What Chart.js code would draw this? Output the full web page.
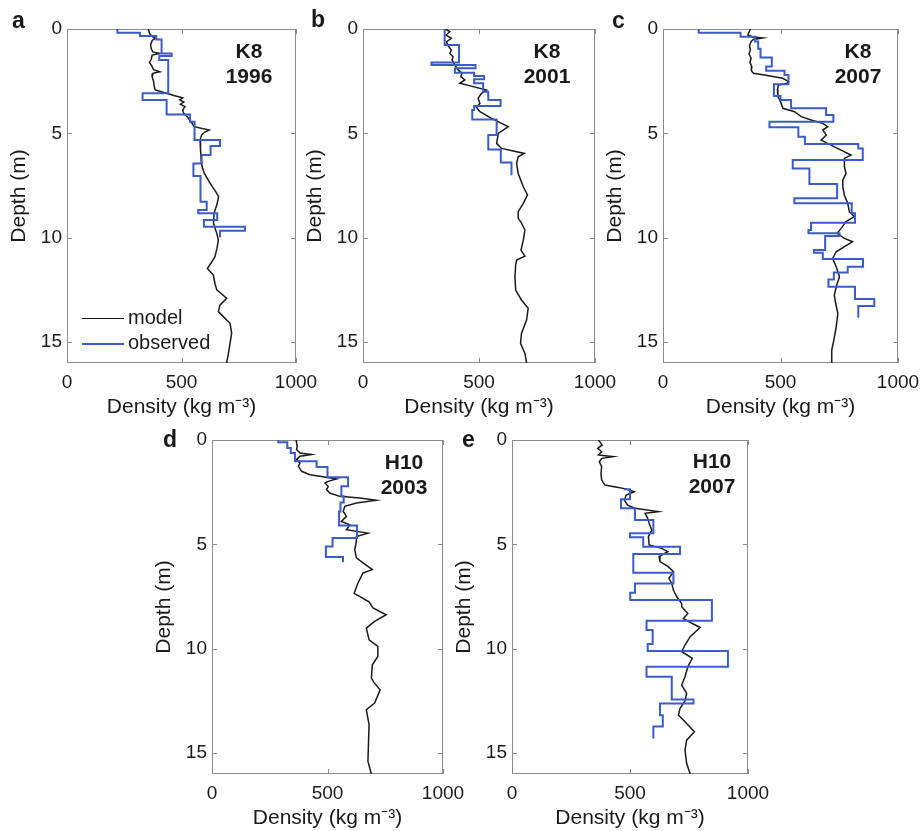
<!DOCTYPE html>
<html>
<head>
<meta charset="utf-8">
<script src="https://cdn.jsdelivr.net/npm/chart.js@4.4.1/dist/chart.umd.min.js"></script>
<style>
  html, body { margin: 0; padding: 0; background: #fff; }
  body { width: 924px; height: 831px; position: relative; overflow: hidden;
         font-family: "Liberation Sans", Arial, sans-serif; color: #1a1a1a; }
  canvas { position: absolute; }
  .letter { position: absolute; font-weight: bold; font-size: 23px; line-height: 23px; }
  .site { position: absolute; font-weight: bold; font-size: 21px; line-height: 25px;
          text-align: center; transform: translateX(-50%); white-space: nowrap; }
  .key { position: absolute; font-size: 20px; line-height: 25px; white-space: nowrap; }
  .key span { display: inline-block; width: 42px; vertical-align: middle; margin-right: 4px; }
</style>
</head>
<body>
<canvas id="pa"></canvas>
<canvas id="pb"></canvas>
<canvas id="pc"></canvas>
<canvas id="pd"></canvas>
<canvas id="pe"></canvas>

<div class="letter" style="left:12px;top:9px">a</div>
<div class="letter" style="left:311px;top:8px">b</div>
<div class="letter" style="left:612px;top:9px">c</div>
<div class="letter" style="left:163px;top:428px">d</div>
<div class="letter" style="left:462px;top:428px">e</div>

<div class="site" style="left:249px;top:38px">K8<br>1996</div>
<div class="site" style="left:547px;top:38px">K8<br>2001</div>
<div class="site" style="left:858px;top:38px">K8<br>2007</div>
<div class="site" style="left:404px;top:449px">H10<br>2003</div>
<div class="site" style="left:712px;top:448px">H10<br>2007</div>

<div class="key" style="left:82px;top:305px"><span style="height:1.5px;background:#1a1a1a"></span>model</div>
<div class="key" style="left:82px;top:330px"><span style="height:2px;background:#3a5bc8"></span>observed</div>

<script>
const densityTicks = [0, 500, 1000];
const depthTicks = [0, 5, 10, 15];
const maxDepth = 16;

// K8 1996
const modDepthA = [0, 0.2, 0.35, 0.45, 0.55, 0.75, 0.95, 1.1, 1.17, 1.25, 1.45, 1.6, 1.8, 1.95, 2.05, 2.12, 2.3, 2.5, 2.7, 2.92, 3.08, 3.2, 3.3, 3.4, 3.5, 3.6, 3.72, 3.9, 4.04, 4.2, 4.36, 4.55, 4.68, 4.84, 4.95, 5.08, 5.32, 5.8, 6.28, 6.6, 6.92, 7.3, 7.56, 7.8, 8.03, 8.4, 8.83, 9.31, 9.79, 10.11, 10.5, 10.91, 11.2, 11.47, 11.79, 12.19, 12.5, 12.9, 13.23, 13.54, 14.1, 14.58, 15.06, 15.54, 16.0];
const modRhoA = [355, 360, 370, 385, 372, 365, 368, 375, 405, 372, 368, 360, 372, 378, 405, 375, 372, 378, 380, 385, 435, 470, 505, 492, 510, 495, 515, 505, 510, 525, 535, 548, 555, 621, 600, 588, 581, 583, 586, 590, 600, 620, 635, 650, 662, 655, 642, 640, 654, 661, 655, 646, 630, 613, 639, 646, 654, 697, 668, 661, 712, 719, 712, 705, 697];
const obsDepthA = [0, 0.18, 0.34, 0.5, 1.17, 1.29, 1.49, 3.08, 3.4, 4.09, 4.44, 5.32, 5.6, 6.04, 6.44, 7.04, 8.27, 8.67, 8.83, 9.15, 9.47, 9.66, 9.98];
const obsRhoA = [220, 319, 390, 413, 457, 403, 442, 330, 435, 537, 557, 668, 627, 588, 552, 583, 610, 573, 656, 598, 777, 668];

// K8 2001
const modDepthB = [0, 0.13, 0.29, 0.45, 0.61, 0.77, 1.01, 1.17, 1.33, 1.49, 1.73, 1.96, 2.12, 2.28, 2.44, 2.6, 2.76, 2.92, 3.08, 3.32, 3.56, 3.75, 3.96, 4.28, 4.52, 4.68, 5.0, 5.48, 5.72, 5.96, 6.12, 6.44, 6.92, 7.56, 7.95, 8.35, 8.75, 9.07, 9.25, 9.63, 10.11, 10.59, 10.88, 11.07, 11.3, 11.87, 12.51, 12.98, 13.38, 13.94, 14.58, 15.06, 15.54, 16.0];
const modRhoB = [355, 374, 358, 381, 360, 365, 381, 374, 388, 384, 396, 410, 427, 421, 439, 417, 475, 532, 511, 496, 504, 489, 504, 554, 597, 626, 583, 576, 597, 695, 669, 662, 669, 691, 709, 691, 669, 669, 681, 698, 691, 681, 698, 662, 658, 655, 658, 683, 712, 705, 683, 679, 698, 705];
const obsDepthB = [0, 0.77, 1.61, 1.73, 1.88, 2.09, 2.25, 2.41, 2.6, 3.0, 3.4, 3.69, 3.88, 4.33, 5.08, 5.77, 6.4, 7.0];
const obsRhoB = [352, 414, 295, 485, 396, 479, 522, 479, 518, 540, 593, 479, 471, 576, 540, 594, 640];

// K8 2007
const modDepthC = [0, 0.29, 0.38, 0.43, 0.5, 0.6, 0.8, 1.0, 1.2, 1.4, 1.6, 1.8, 2.0, 2.12, 2.2, 2.36, 2.52, 2.6, 2.68, 2.9, 3.24, 3.48, 3.8, 3.96, 4.2, 4.36, 4.52, 4.68, 4.84, 5.08, 5.32, 5.56, 5.8, 6.04, 6.2, 6.6, 6.92, 7.24, 7.56, 7.96, 8.35, 8.75, 8.99, 9.23, 9.55, 9.79, 10.03, 10.19, 10.43, 10.67, 10.99, 11.39, 11.87, 12.35, 12.75, 13.15, 13.63, 14.27, 14.9, 15.38, 16.0];
const modRhoC = [372, 361, 383, 425, 385, 375, 368, 372, 366, 375, 370, 378, 376, 385, 432, 510, 534, 528, 491, 487, 489, 500, 510, 560, 588, 630, 680, 701, 680, 695, 673, 715, 758, 800, 772, 772, 779, 765, 765, 772, 786, 793, 814, 779, 758, 741, 772, 807, 772, 737, 722, 737, 751, 737, 729, 735, 744, 737, 727, 718, 718];
const obsDepthC = [0, 0.18, 0.37, 0.6, 0.95, 1.36, 1.8, 2.0, 2.2, 2.65, 3.21, 3.4, 3.8, 4.12, 4.44, 4.71, 5.16, 5.51, 5.72, 6.28, 6.68, 7.43, 8.11, 8.35, 8.83, 9.28, 9.63, 9.79, 9.92, 10.59, 10.72, 11.02, 11.39, 11.66, 12.0, 12.35, 12.94, 13.27, 13.83];
const obsRhoC = [152, 330, 392, 405, 415, 463, 439, 517, 534, 472, 500, 545, 694, 725, 453, 576, 604, 831, 850, 552, 623, 741, 559, 803, 817, 630, 619, 751, 690, 642, 680, 851, 786, 727, 704, 817, 899, 831];

// H10 2003
const modDepthD = [0, 0.3, 0.46, 0.62, 0.7, 0.78, 0.94, 1.1, 1.26, 1.5, 1.66, 1.74, 1.87, 1.98, 2.06, 2.22, 2.38, 2.54, 2.7, 2.78, 2.89, 3.02, 3.18, 3.42, 3.66, 3.9, 4.06, 4.3, 4.46, 4.62, 4.86, 5.26, 5.65, 5.89, 6.21, 6.37, 6.85, 7.35, 7.49, 7.75, 8.05, 8.37, 8.69, 9.01, 9.57, 9.89, 10.37, 10.77, 11.41, 11.6, 11.97, 12.6, 12.92, 13.64, 14.68, 15.4, 16.0];
const modRhoD = [364, 369, 366, 381, 431, 381, 366, 381, 374, 388, 424, 467, 539, 503, 489, 503, 496, 510, 553, 639, 711, 625, 575, 568, 582, 560, 597, 582, 675, 625, 625, 618, 625, 654, 694, 654, 632, 615, 639, 680, 697, 754, 704, 668, 680, 718, 718, 694, 690, 700, 728, 704, 668, 680, 677, 675, 690];
const obsDepthD = [0, 0.11, 0.38, 0.62, 1.02, 1.29, 1.79, 2.22, 2.7, 2.99, 3.42, 4.09, 4.7, 5.1, 5.61, 5.86];
const obsRhoD = [287, 326, 341, 359, 453, 500, 589, 560, 570, 556, 550, 628, 522, 493, 567];

// H10 2007
const modDepthE = [0, 0.24, 0.4, 0.56, 0.72, 0.8, 0.88, 1.04, 1.28, 1.6, 1.92, 2.16, 2.27, 2.36, 2.48, 2.64, 2.88, 3.12, 3.27, 3.43, 3.51, 3.75, 3.99, 4.31, 4.63, 5.03, 5.19, 5.35, 5.59, 5.83, 6.07, 6.31, 6.63, 6.87, 7.19, 7.51, 7.83, 7.99, 8.31, 8.55, 8.78, 8.98, 9.42, 9.82, 10.14, 10.46, 10.86, 11.34, 11.74, 12.14, 12.5, 12.86, 13.18, 13.58, 13.98, 14.38, 14.86, 15.49, 16.0];
const modRhoE = [366, 382, 363, 380, 366, 429, 380, 370, 380, 377, 380, 394, 450, 486, 518, 484, 476, 490, 521, 620, 564, 575, 581, 592, 578, 581, 634, 660, 623, 627, 662, 684, 665, 677, 684, 698, 719, 719, 745, 726, 762, 797, 755, 733, 719, 764, 745, 733, 719, 740, 733, 712, 705, 740, 773, 740, 733, 740, 755];
const obsDepthE = [2.34, 2.36, 2.84, 3.27, 3.83, 4.47, 4.66, 5.11, 5.46, 6.36, 6.87, 7.32, 7.67, 8.66, 9.1, 9.77, 10.11, 10.86, 11.34, 12.43, 12.62, 13.18, 13.73, 14.3];
const obsRhoE = [478, 500, 462, 521, 599, 500, 556, 712, 514, 684, 521, 501, 847, 570, 596, 575, 915, 570, 677, 769, 627, 639, 599];

const modelColor = '#1a1a1a';
const obsColor = '#3a5bc8';
const textColor = '#1a1a1a';
const fontFamily = '"Liberation Sans", Arial, sans-serif';

function profile(depths, rhos) {
    const pts = [];
    const n = Math.min(depths.length, rhos.length);
    for (let i = 0; i < n; i++) {
        pts.push({ x: rhos[i], y: depths[i] });
    }
    return pts;
}

// each observed density holds from depths[i] down to depths[i + 1]
function stairs(depths, rhos) {
    const pts = [];
    for (let i = 0; i < rhos.length; i++) {
        pts.push({ x: rhos[i], y: depths[i] });
        pts.push({ x: rhos[i], y: depths[i + 1] });
    }
    return pts;
}

// box round the plot with short inward ticks on all four sides
const frame = {
    id: 'frame',
    beforeDatasetsDraw(chart) {
        const { ctx, chartArea: a, scales: { x, y } } = chart;
        ctx.save();
        ctx.strokeStyle = '#8a8a8a';
        ctx.lineWidth = 1;
        ctx.strokeRect(a.left + 0.5, a.top + 0.5, a.width - 1, a.height - 1);
        ctx.beginPath();
        densityTicks.forEach(v => {
            const px = Math.round(x.getPixelForValue(v)) + 0.5;
            ctx.moveTo(px, a.top); ctx.lineTo(px, a.top + 5);
            ctx.moveTo(px, a.bottom); ctx.lineTo(px, a.bottom - 5);
        });
        depthTicks.forEach(v => {
            const py = Math.round(y.getPixelForValue(v)) + 0.5;
            ctx.moveTo(a.left, py); ctx.lineTo(a.left + 5, py);
            ctx.moveTo(a.right, py); ctx.lineTo(a.right - 5, py);
        });
        ctx.stroke();
        ctx.restore();
    }
};

function panel(id, area, model, observed) {
    const cv = document.getElementById(id);
    cv.width = area.right - area.left + 100;
    cv.height = area.bottom - area.top + 80;
    cv.style.left = (area.left - 70) + 'px';
    cv.style.top = (area.top - 20) + 'px';

    new Chart(cv.getContext('2d'), {
        type: 'scatter',
        data: {
            datasets: [
                {
                    label: 'observed',
                    data: observed,
                    showLine: true,
                    borderColor: obsColor,
                    borderWidth: 2,
                    pointRadius: 0,
                    tension: 0,
                },
                {
                    label: 'model',
                    data: model,
                    showLine: true,
                    borderColor: modelColor,
                    borderWidth: 1.5,
                    pointRadius: 0,
                    tension: 0,
                },
            ],
        },
        options: {
            responsive: false,
            animation: false,
            events: [],
            layout: { padding: { top: 20, right: 30, left: 0, bottom: 0 } },
            plugins: { legend: { display: false }, tooltip: { enabled: false } },
            scales: {
                x: {
                    type: 'linear',
                    position: 'bottom',
                    min: 0,
                    max: 1000,
                    afterBuildTicks: s => { s.ticks = densityTicks.map(v => ({ value: v })); },
                    afterFit: s => { s.height = 60; },
                    grid: { display: false, drawTicks: false },
                    border: { display: false },
                    ticks: {
                        padding: 8,
                        color: textColor,
                        maxRotation: 0,
                        autoSkip: false,
                        font: { family: fontFamily, size: 19 },
                        callback: v => String(v),
                    },
                    title: {
                        display: true,
                        text: 'Density (kg m\u207B\u00B3)',
                        color: textColor,
                        font: { family: fontFamily, size: 21 },
                        padding: { top: 0, bottom: 3 },
                    },
                },
                y: {
                    type: 'linear',
                    reverse: true,
                    min: 0,
                    max: maxDepth,
                    afterBuildTicks: s => { s.ticks = depthTicks.map(v => ({ value: v })); },
                    afterFit: s => { s.width = 70; },
                    grid: { display: false, drawTicks: false },
                    border: { display: false },
                    ticks: {
                        padding: 5,
                        color: textColor,
                        font: { family: fontFamily, size: 19 },
                        callback: v => String(v),
                    },
                    title: {
                        display: true,
                        text: 'Depth (m)',
                        color: textColor,
                        font: { family: fontFamily, size: 21 },
                        padding: { top: 10, bottom: 0 },
                    },
                },
            },
        },
        plugins: [frame],
    });
}

panel('pa', { left: 67, right: 296, top: 29, bottom: 363 }, profile(modDepthA, modRhoA), stairs(obsDepthA, obsRhoA));
panel('pb', { left: 363, right: 595, top: 29, bottom: 363 }, profile(modDepthB, modRhoB), stairs(obsDepthB, obsRhoB));
panel('pc', { left: 663, right: 898, top: 29, bottom: 363 }, profile(modDepthC, modRhoC), stairs(obsDepthC, obsRhoC));
panel('pd', { left: 212, right: 443, top: 440, bottom: 774 }, profile(modDepthD, modRhoD), stairs(obsDepthD, obsRhoD));
panel('pe', { left: 512, right: 748, top: 440, bottom: 774 }, profile(modDepthE, modRhoE), stairs(obsDepthE, obsRhoE));
</script>
</body>
</html>
